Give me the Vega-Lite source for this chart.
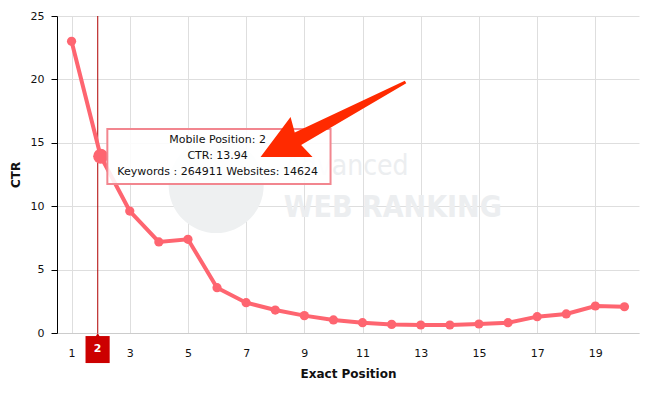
{
  "$schema": "https://vega.github.io/schema/vega-lite/v6.json",
  "autosize": "none",
  "width": 582,
  "height": 317,
  "padding": {"left": 57, "top": 16, "right": 12, "bottom": 64},
  "config": {
    "view": {"stroke": null},
    "font": "DejaVu Sans",
    "axis": {"labelFont": "DejaVu Sans", "titleFont": "DejaVu Sans", "labelFontSize": 11, "labelColor": "#111", "titleFontSize": 12, "titleFontWeight": "bold", "titleColor": "#111", "gridColor": "#dedede", "gridWidth": 1}
  },
  "datasets": {
    "ctr": [
      {"position": 1, "ctr": 23.0},
      {"position": 2, "ctr": 13.94},
      {"position": 3, "ctr": 9.62},
      {"position": 4, "ctr": 7.18},
      {"position": 5, "ctr": 7.39},
      {"position": 6, "ctr": 3.57},
      {"position": 7, "ctr": 2.39},
      {"position": 8, "ctr": 1.81},
      {"position": 9, "ctr": 1.37},
      {"position": 10, "ctr": 1.03},
      {"position": 11, "ctr": 0.81},
      {"position": 12, "ctr": 0.68},
      {"position": 13, "ctr": 0.63},
      {"position": 14, "ctr": 0.63},
      {"position": 15, "ctr": 0.71},
      {"position": 16, "ctr": 0.81},
      {"position": 17, "ctr": 1.29},
      {"position": 18, "ctr": 1.5},
      {"position": 19, "ctr": 2.13},
      {"position": 20, "ctr": 2.07}
    ],
    "tip": [
      {"x": 6.02, "y": 15.22, "label": "Mobile Position: 2"},
      {"x": 6.02, "y": 13.96, "label": "CTR: 13.94"},
      {"x": 6.02, "y": 12.7, "label": "Keywords : 264911 Websites: 14624"}
    ]
  },
  "layer": [
    {
      "data": {"values": [{"x": 5.97, "y": 11.63}]},
      "mark": {"type": "point", "filled": true, "color": "#eef0f1", "opacity": 1, "size": 9025},
      "encoding": {
        "x": {"field": "x", "type": "quantitative", "scale": {"domain": [0.5, 20.5], "nice": false, "zero": false},
          "axis": {"values": [1, 3, 5, 7, 9, 11, 13, 15, 17, 19], "ticks": false, "domainColor": "#cccccc", "labelPadding": 14, "title": "Exact Position", "titlePadding": 10, "grid": true}},
        "y": {"field": "y", "type": "quantitative", "scale": {"domain": [0, 25], "nice": false},
          "axis": {"values": [0, 5, 10, 15, 20, 25], "tickSize": 6, "tickColor": "#000", "domainColor": "#000", "labelPadding": 7, "title": "CTR", "titlePadding": 8, "grid": true}}
      }
    },
    {
      "data": {"values": [{"x": 12.58, "y": 12.46, "t": "Advanced"}]},
      "mark": {"type": "text", "align": "right", "baseline": "alphabetic", "font": "DejaVu Sans Condensed", "fontSize": 28, "fontWeight": 300, "color": "#eceef0"},
      "encoding": {"x": {"field": "x", "type": "quantitative"}, "y": {"field": "y", "type": "quantitative"}, "text": {"field": "t"}}
    },
    {
      "data": {"values": [{"x": 8.29, "y": 9.15, "t": "WEB RANKING"}]},
      "mark": {"type": "text", "align": "left", "baseline": "alphabetic", "font": "DejaVu Sans Condensed", "fontSize": 30, "fontWeight": "bold", "color": "#eceef0"},
      "encoding": {"x": {"field": "x", "type": "quantitative"}, "y": {"field": "y", "type": "quantitative"}, "text": {"field": "t"}}
    },
    {
      "data": {"values": [{"x": 1.9}]},
      "mark": {"type": "rule", "color": "#b00000", "strokeWidth": 1},
      "encoding": {"x": {"field": "x", "type": "quantitative"}}
    },
    {
      "data": {"name": "ctr"},
      "mark": {"type": "line", "color": "#fe6570", "strokeWidth": 4},
      "encoding": {"x": {"field": "position", "type": "quantitative"}, "y": {"field": "ctr", "type": "quantitative"}}
    },
    {
      "data": {"name": "ctr"},
      "mark": {"type": "point", "filled": true, "color": "#fe6570", "opacity": 1, "size": 85},
      "encoding": {"x": {"field": "position", "type": "quantitative"}, "y": {"field": "ctr", "type": "quantitative"}}
    },
    {
      "data": {"values": [{"x": 2, "y": 13.94}]},
      "mark": {"type": "point", "filled": true, "color": "#fe6570", "opacity": 1, "size": 225},
      "encoding": {"x": {"field": "x", "type": "quantitative"}, "y": {"field": "y", "type": "quantitative"}}
    },
    {
      "data": {"values": [{"x": 2.23, "x2": 9.9, "y": 16.09, "y2": 11.75}]},
      "mark": {"type": "rect", "fill": "#ffffff", "fillOpacity": 0.88, "stroke": "#f2868f", "strokeWidth": 2},
      "encoding": {"x": {"field": "x", "type": "quantitative"}, "x2": {"field": "x2"}, "y": {"field": "y", "type": "quantitative"}, "y2": {"field": "y2"}}
    },
    {
      "data": {"name": "tip"},
      "mark": {"type": "text", "align": "center", "baseline": "middle", "fontSize": 11, "color": "#111"},
      "encoding": {"x": {"field": "x", "type": "quantitative"}, "y": {"field": "y", "type": "quantitative"}, "text": {"field": "label"}}
    },
    {
      "data": {"values": [{"x": 9.986, "y": 16.84}]},
      "mark": {"type": "point", "filled": true, "opacity": 1, "color": "#ff2a00", "size": 21025,
        "shape": "M -1 0.517 L -0.586 -0.034 L -0.528 0.181 L 0.99 -0.535 L 1.01 -0.499 L -0.44 0.352 L -0.283 0.517 Z"},
      "encoding": {"x": {"field": "x", "type": "quantitative"}, "y": {"field": "y", "type": "quantitative"}}
    },
    {
      "data": {"values": [{"x": 1.48, "x2": 2.31, "y": -0.24, "y2": -2.37}]},
      "mark": {"type": "rect", "color": "#cc0000", "clip": false},
      "encoding": {"x": {"field": "x", "type": "quantitative"}, "x2": {"field": "x2"}, "y": {"field": "y", "type": "quantitative"}, "y2": {"field": "y2"}}
    },
    {
      "data": {"values": [{"x": 1.9, "y": -0.18}]},
      "mark": {"type": "point", "shape": "triangle-up", "filled": true, "color": "#cc0000", "opacity": 1, "size": 30, "clip": false},
      "encoding": {"x": {"field": "x", "type": "quantitative"}, "y": {"field": "y", "type": "quantitative"}}
    },
    {
      "data": {"values": [{"x": 1.895, "y": -1.26, "t": "2"}]},
      "mark": {"type": "text", "color": "#ffffff", "fontWeight": "bold", "fontSize": 11, "align": "center", "baseline": "middle", "clip": false},
      "encoding": {"x": {"field": "x", "type": "quantitative"}, "y": {"field": "y", "type": "quantitative"}, "text": {"field": "t"}}
    }
  ]
}
